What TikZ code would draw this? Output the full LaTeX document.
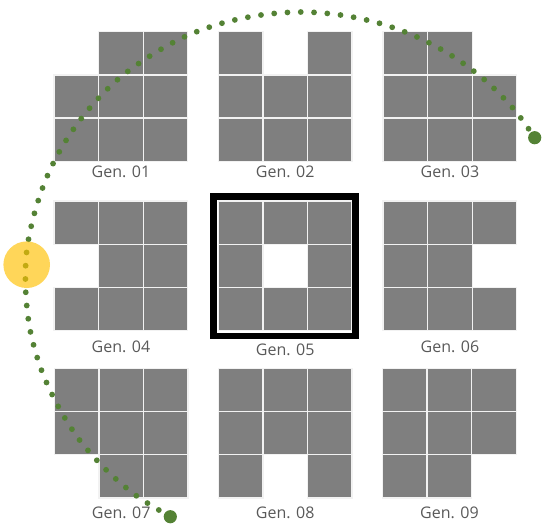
\documentclass[tikz,border=0pt]{standalone}
\usepackage{fontspec}
\setmainfont{Open Sans}
\definecolor{cellgray}{HTML}{7F7F7F}
\definecolor{cellline}{HTML}{F2F2F2}
\definecolor{labgray}{HTML}{595959}
\definecolor{dotgreen}{HTML}{548235}
\definecolor{sunyellow}{HTML}{FFC000}
\begin{document}
\begin{tikzpicture}[x=1pt,y=-1pt,
  cellbox/.style={fill=cellgray, draw=cellline, line width=1.3pt},
  genlabel/.style={anchor=base, text=labgray, font=\fontsize{16}{18}\selectfont, inner sep=0pt},
  framebox/.style={draw=black, line width=6.5pt},
  dotline/.style={draw=dotgreen, line width=5.8pt, line cap=round, dash pattern=on 0pt off 13.3pt},
  enddot/.style={fill=dotgreen},
  sunspot/.style={fill=sunyellow, opacity=0.65}]
\useasboundingbox (0,0) rectangle (543,523);
% grids: each generation has one empty cell (index k in row-major order)
\foreach \gx/\gy/\k in {54/31.7/1, 218.3/31.7/2, 383/31.7/3,
                         54/201/4, 218.3/201/5, 383/201/6,
                         54.3/368.3/7, 218.3/368.3/8, 382.5/368.3/9}{
  \foreach \r in {0,1,2}{
    \foreach \c in {0,1,2}{
      \pgfmathtruncatemacro\idx{\r*3+\c+1}
      \ifnum\idx=\k\relax\else
        \path[cellbox] ({\gx+\c*44.6},{\gy+\r*43.2}) rectangle ++(44.6,43.2);
      \fi
    }
  }
}
% highlight frame around Gen. 05
\draw[framebox] (213.5,196.5) rectangle (355.3,335.8);
% labels
\node[genlabel] (l1) at (120.9,177.3) {Gen. 01};
\node[genlabel] (l2) at (285.2,177.3) {Gen. 02};
\node[genlabel] (l3) at (449.9,177.3) {Gen. 03};
\node[genlabel] (l4) at (120.9,352.3) {Gen. 04};
\node[genlabel] (l5) at (285.2,355.7) {Gen. 05};
\node[genlabel] (l6) at (449.9,352.3) {Gen. 06};
\node[genlabel] (l7) at (121.2,518.8) {Gen. 07};
\node[genlabel] (l8) at (285.2,518.8) {Gen. 08};
\node[genlabel] (l9) at (449.4,518.8) {Gen. 09};
% dotted trajectory
\coordinate (startpt) at (170.3,516.7);
\coordinate (endpt) at (534.7,137.7);
\draw[dotline] plot[smooth, tension=0.55] coordinates {
  (170.3,516.7) (136.3,495.7) (106,469.7) (79.3,439.7) (58,406) (41.3,369.7)
  (30.3,331) (25.7,291) (26.7,251.3) (34.7,212.3) (48,174.3) (66.7,139.3)
  (90.3,107.3) (118.3,79) (151,55.3) (186.3,36) (223.7,22.7) (263,14.7)
  (303,12) (342.7,15.3) (382,24) (419.3,38) (454.3,57.3) (486.3,81.3)
  (514.3,109.7) (534.7,137.7)};
\fill[enddot] (startpt) circle (6.6);
\fill[enddot] (endpt) circle (6.6);
\fill[sunspot] (26.7,264.7) circle (23.3);
\end{tikzpicture}
\end{document}
